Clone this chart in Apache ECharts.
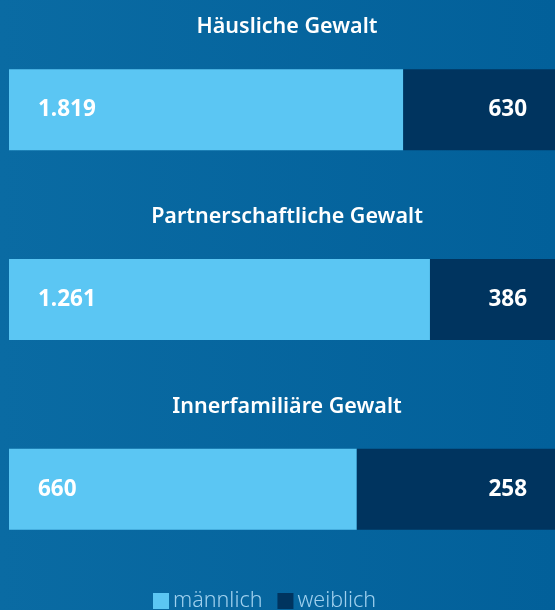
<!DOCTYPE html>
<html>
<head>
<meta charset="utf-8">
<script src="https://cdn.jsdelivr.net/npm/echarts@6/dist/echarts.min.js"></script>
<style>
  html, body { margin: 0; padding: 0; }
  #chart { width: 555px; height: 610px; }
</style>
</head>
<body>
<div id="chart"></div>
<script>
// Kategorien (von oben nach unten)
var categories = ['Häusliche Gewalt', 'Partnerschaftliche Gewalt', 'Innerfamiliäre Gewalt']
// Fallzahlen (Beschriftung)
var maleCounts = [1819, 1261, 660]
var femaleCounts = [630, 386, 258]
// Balkenanteile in Prozent
var maleShare = [72.2, 77.1, 63.7]
var femaleShare = [27.8, 22.9, 36.3]

var hell = '#5bc6f3'
var dunkel = '#00345f'
var font = 'Noto Sans'

function fmt(n) {
    return String(n).replace(/\B(?=(\d{3})+(?!\d))/g, '.')
}

var chart = echarts.init(document.getElementById('chart'))

// Überschriften über den Balken
var titles = categories.map(function (c, i) {
    return {
        text: c,
        left: 282,
        textAlign: 'center',
        top: 11 + i * 190,
        textStyle: { color: '#ffffff', fontFamily: font, fontSize: 21.5, fontWeight: 600 }
    }
})

var option = {
    backgroundColor: {
        type: 'linear', x: 0, y: 0, x2: 1, y2: 0,
        colorStops: [
            { offset: 0, color: '#0a6ba3' },
            { offset: 1, color: '#02609a' }
        ]
    },
    title: titles,
    legend: {
        data: ['männlich', 'weiblich'],
        left: 153,
        top: 590,
        padding: 0,
        icon: 'rect',
        itemWidth: 16,
        itemHeight: 16,
        itemGap: 15,
        textStyle: { color: '#9fd0ee', fontFamily: font, fontSize: 21.5, fontWeight: 300, padding: [0, 0, 0, -1] }
    },
    grid: { left: 9, right: 0, top: 15, bottom: 26 },
    xAxis: { type: 'value', min: 0, max: 100, show: false },
    yAxis: { type: 'category', data: categories, inverse: true, show: false },
    series: [
        {
            name: 'männlich',
            type: 'bar',
            stack: 'g',
            barWidth: 81,
            data: maleShare,
            itemStyle: { color: hell },
            label: {
                show: true,
                position: 'insideLeft',
                distance: 29,
                color: '#ffffff',
                fontFamily: font,
                fontSize: 22.5,
                fontWeight: 'bold',
                formatter: function (p) { return fmt(maleCounts[p.dataIndex]) }
            }
        },
        {
            name: 'weiblich',
            type: 'bar',
            stack: 'g',
            barWidth: 81,
            data: femaleShare,
            itemStyle: { color: dunkel },
            label: {
                show: true,
                position: 'insideRight',
                distance: 28,
                color: '#ffffff',
                fontFamily: font,
                fontSize: 22.5,
                fontWeight: 'bold',
                formatter: function (p) { return fmt(femaleCounts[p.dataIndex]) }
            }
        }
    ]
}

chart.setOption(option)
</script>
</body>
</html>
